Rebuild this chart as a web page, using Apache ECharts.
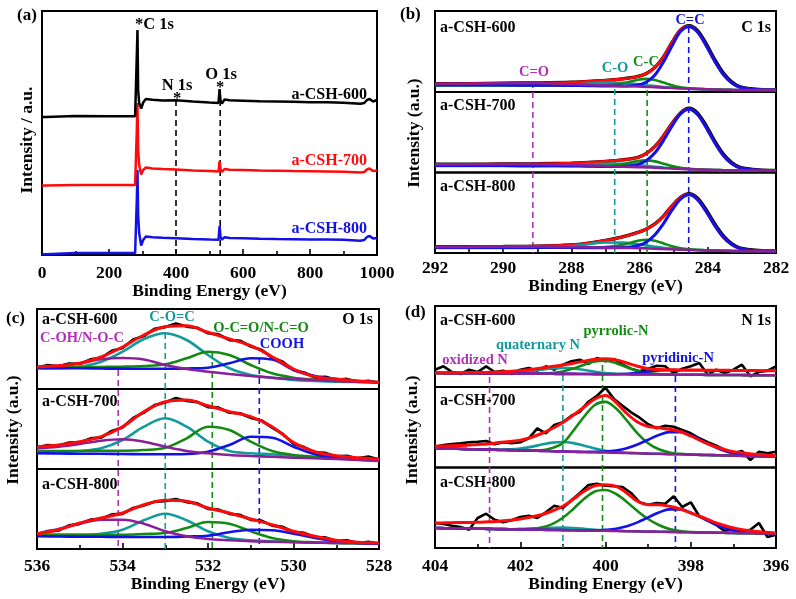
<!DOCTYPE html>
<html><head><meta charset="utf-8">
<script src="https://cdn.jsdelivr.net/npm/echarts/dist/echarts.min.js"></script>
<style>html,body{margin:0;padding:0;background:#fff;}#c{width:796px;height:599px;}</style>
</head><body><div id="c"></div>
<script>
// ================= DATA =================
// ---- (a) survey spectra (intensity offset, arbitrary units) ----
const surveyX   = [0, 12, 16, 100, 200, 278, 281, 283, 285, 287, 290, 296, 302, 310, 330, 360, 400, 450, 500, 527, 530, 533, 537, 545, 560, 600, 650, 700, 750, 800, 850, 900, 950, 962, 970, 978, 988, 1000];
const survey600 = [138.0, 138.0, 139.0, 139.0, 138.8, 138.8, 139.5, 200, 225, 165, 152, 146.5, 152.5, 156, 155.3, 154.5, 154.7, 153.5, 152.5, 152, 166, 154, 151.5, 155.5, 154.7, 154.3, 153.8, 153.5, 153.2, 152.8, 152.8, 152.3, 151.2, 152, 155, 156, 153.5, 155];
const survey700 = [69.5, 69.5, 70, 70, 70, 70, 70.5, 125, 152, 105, 90, 80.5, 85, 87.5, 86.5, 86, 85.5, 84.5, 84, 83.5, 94, 86, 83, 86, 85.3, 85, 84.5, 84.3, 84, 83.8, 83.6, 83.3, 82.5, 83, 85.5, 86.5, 84, 84.5];
const survey800 = [0.8, 0.8, 2, 2, 2, 2, 2.5, 55, 85, 40, 22, 9.5, 15, 18.5, 17.8, 17.3, 16.8, 16, 15.5, 15.3, 29, 18, 15.3, 17.8, 17, 16.7, 16.3, 16, 15.8, 15.6, 15.4, 15.2, 14.3, 15, 18, 19, 16.5, 17];
const surveyMarkX   = [400, 532];
const surveyMarkTop = [155, 165];

// ---- (b) C 1s ----
const c1sX = [292, 291, 290, 289, 288, 287.5, 287, 286.5, 286.05, 285.8, 285.55, 285.3, 285.05, 284.8, 284.55, 284.3, 284.05, 283.8, 283.55, 283.3, 283.05, 282.5, 282];
const c1s600Raw = [8.2, 8.4, 8.8, 9.1, 9.7, 10.6, 11.6, 13.1, 15.6, 18.6, 24.6, 35.1, 49.6, 62.1, 66.4, 61.4, 48.3, 32.6, 19.2, 10.2, 5.2, 2.5, 2.0];
const c1s600Fit = [8.1, 8.3, 8.7, 9.0, 9.6, 10.5, 11.5, 13.0, 15.5, 18.5, 24.5, 35.0, 49.5, 62.0, 65.8, 60.0, 46.5, 30.9, 17.7, 9.2, 4.7, 2.2, 2.0];
const c1s600CdC = [7.0, 7.0, 6.9, 6.8, 6.6, 6.3, 6.0, 6.0, 7.0, 10.0, 17.0, 30.0, 46.0, 60.5, 65.3, 59.9, 46.5, 30.9, 17.7, 9.2, 4.7, 2.2, 2.0];
const c1s600CC  = [6.8, 6.8, 6.7, 6.6, 6.5, 6.4, 6.6, 8.6, 12.3, 13.1, 12.0, 9.4, 6.8, 4.8, 3.7, 3.1, 2.7, 2.5, 2.3, 2.1, 2.0, 2.0, 2.0];
const c1s600CO  = [6.5, 6.5, 6.5, 6.6, 7.3, 8.4, 9.4, 9.1, 7.8, 6.8, 5.9, 5.0, 4.3, 3.7, 3.3, 3.0, 2.7, 2.5, 2.3, 2.1, 2.0, 2.0, 2.0];
const c1s600CdO = [8.1, 8.3, 8.7, 8.7, 7.8, 7.1, 6.5, 5.9, 5.5, 5.1, 4.8, 4.4, 4.0, 3.6, 3.3, 3.0, 2.7, 2.5, 2.3, 2.1, 2.0, 2.0, 2.0];
const c1s700Raw = [8.2, 8.3, 8.5, 8.7, 9.4, 10.1, 11.1, 12.6, 15.1, 19.1, 26.1, 36.6, 49.1, 59.6, 64.2, 59.4, 46.9, 31.7, 18.7, 9.9, 5.1, 2.5, 2.0];
const c1s700Fit = [8.1, 8.2, 8.4, 8.6, 9.3, 10.0, 11.0, 12.5, 15.0, 19.0, 26.0, 36.5, 49.0, 59.5, 63.6, 58.0, 45.1, 30.0, 17.2, 8.9, 4.6, 2.2, 2.0];
const c1s700CdC = [7.0, 7.0, 6.9, 6.8, 6.6, 6.3, 6.0, 6.0, 8.0, 11.9, 19.7, 31.9, 46.4, 58.6, 63.3, 58.0, 45.1, 30.0, 17.2, 8.9, 4.6, 2.2, 2.0];
const c1s700CC  = [6.8, 6.8, 6.7, 6.6, 6.5, 6.4, 6.5, 8.3, 11.4, 12.1, 11.1, 8.8, 6.4, 4.6, 3.6, 3.1, 2.7, 2.5, 2.3, 2.1, 2.0, 2.0, 2.0];
const c1s700CO  = [6.5, 6.5, 6.5, 6.6, 7.2, 8.0, 8.8, 8.6, 7.5, 6.6, 5.8, 5.0, 4.3, 3.8, 3.4, 3.0, 2.7, 2.5, 2.3, 2.1, 2.0, 2.0, 2.0];
const c1s700CdO = [8.1, 8.2, 8.4, 8.4, 7.6, 7.0, 6.4, 5.9, 5.4, 5.1, 4.8, 4.4, 4.0, 3.6, 3.3, 3.0, 2.7, 2.5, 2.3, 2.1, 2.0, 2.0, 2.0];
const c1s800Raw = [6.2, 6.3, 6.5, 6.9, 8.1, 9.9, 12.6, 16.1, 20.6, 24.1, 29.1, 36.9, 47.1, 55.6, 59.3, 54.8, 43.3, 29.2, 17.4, 9.3, 4.9, 2.5, 2.0];
const c1s800Fit = [6.1, 6.2, 6.4, 6.8, 8.0, 9.8, 12.5, 16.0, 20.5, 24.0, 29.0, 36.8, 47.0, 55.5, 58.8, 53.5, 41.6, 27.7, 16.0, 8.4, 4.4, 2.2, 2.0];
const c1s800CdC = [5.5, 5.5, 5.5, 5.5, 5.4, 5.3, 5.2, 5.4, 7.4, 11.1, 18.3, 29.4, 42.8, 53.9, 58.3, 53.4, 41.6, 27.7, 16.0, 8.4, 4.4, 2.2, 2.0];
const c1s800CC  = [5.3, 5.3, 5.3, 5.3, 5.4, 5.5, 5.9, 8.3, 12.3, 13.3, 12.2, 9.6, 6.7, 4.7, 3.6, 3.1, 2.7, 2.5, 2.3, 2.1, 2.0, 2.0, 2.0];
const c1s800CO  = [5.0, 5.0, 5.0, 5.3, 6.8, 8.8, 10.5, 10.4, 8.7, 7.5, 6.3, 5.2, 4.4, 3.8, 3.3, 3.0, 2.7, 2.5, 2.3, 2.1, 2.0, 2.0, 2.0];
const c1s800CdO = [6.0, 6.1, 6.3, 6.4, 6.0, 5.7, 5.4, 5.1, 4.8, 4.6, 4.3, 4.0, 3.7, 3.4, 3.1, 2.8, 2.6, 2.4, 2.2, 2.0, 1.9, 1.9, 1.9];
const c1sMarkX   = [289.13, 286.73, 285.78, 284.56];
const c1sMarkTop = [171, 174, 173, 226];

// ---- (c) O 1s ----
const o1sX    = [536, 535.5, 535, 534.5, 534, 533.5, 533, 532.5, 532, 531.5, 531, 530.5, 530, 529.5, 529, 528.5, 528];
const o1sRawX = [536, 535.75, 535.5, 535.25, 535, 534.75, 534.5, 534.25, 534, 533.75, 533.5, 533.25, 533, 532.75, 532.5, 532.25, 532, 531.75, 531.5, 531.25, 531, 530.75, 530.5, 530.25, 530, 529.75, 529.5, 529.25, 529, 528.75, 528.5, 528.25, 528];
const o1s600Raw  = [21.5, 23.8, 22.6, 25.3, 25.0, 29.5, 31.2, 38.2, 41.0, 49.5, 53.0, 60.2, 62.0, 65.5, 62.5, 61.2, 55.8, 54.5, 49.0, 48.2, 42.5, 39.2, 31.5, 27.2, 19.0, 16.5, 11.5, 12.2, 9.2, 10.0, 7.2, 8.0, 6.2];
const o1s600Fit  = [22.3, 23.3, 25.7, 32.0, 42.0, 54.0, 62.3, 63.3, 56.7, 50.0, 43.3, 32.3, 20.0, 12.3, 10.0, 8.0, 6.7];
const o1s600COC  = [20.7, 20.7, 22.3, 27.3, 37.3, 50.0, 55.7, 49.0, 34.0, 20.7, 14.0, 11.3, 9.0, 8.0, 7.3, 7.0, 6.7];
const o1s600OCO  = [21.7, 21.7, 21.7, 22.0, 22.3, 23.0, 24.7, 30.7, 37.3, 34.0, 24.0, 15.7, 11.3, 9.3, 8.0, 7.3, 6.7];
const o1s600COOH = [20.7, 20.7, 20.7, 20.5, 20.3, 20.3, 20.3, 20.5, 21.3, 25.7, 30.7, 29.5, 19.0, 13.0, 10.0, 8.0, 6.7];
const o1s600COH  = [21.7, 23.3, 25.7, 29.7, 31.0, 29.5, 24.0, 20.0, 17.3, 15.0, 13.0, 11.3, 10.0, 9.0, 8.0, 7.3, 6.7];
const o1s700Raw  = [21.5, 23.8, 23.2, 26.3, 26.5, 30.5, 31.5, 38.0, 41.5, 51.0, 56.5, 63.8, 66.5, 71.0, 68.2, 67.0, 62.0, 61.3, 56.3, 55.6, 51.2, 48.5, 41.5, 35.0, 25.2, 21.8, 16.5, 16.0, 12.5, 13.2, 10.5, 12.3, 9.5];
const o1s700Fit  = [22.3, 24.0, 27.3, 32.3, 42.3, 57.3, 67.3, 69.0, 63.3, 57.3, 52.3, 42.3, 26.5, 17.3, 13.3, 11.3, 10.0];
const o1s700COC  = [17.3, 17.3, 18.0, 20.7, 29.0, 42.3, 50.7, 42.3, 27.3, 18.0, 15.7, 14.7, 13.3, 12.0, 10.7, 9.8, 9.0];
const o1s700OCO  = [18.0, 18.0, 18.0, 18.2, 18.3, 19.0, 21.3, 30.7, 42.3, 39.0, 27.3, 18.0, 14.0, 12.3, 11.3, 10.2, 9.0];
const o1s700COOH = [15.7, 15.5, 15.3, 15.2, 15.0, 14.8, 14.7, 15.0, 17.3, 24.0, 32.3, 31.3, 22.3, 14.7, 11.3, 10.0, 9.0];
const o1s700COH  = [20.7, 22.3, 25.0, 28.3, 29.8, 27.3, 22.3, 18.0, 15.7, 14.0, 13.0, 12.2, 11.3, 10.7, 10.0, 9.0, 8.0];
const o1s800Raw  = [14.5, 17.8, 18.5, 23.5, 25.2, 29.3, 30.2, 34.5, 35.2, 41.0, 43.5, 47.3, 48.0, 49.8, 47.0, 45.5, 40.2, 39.3, 35.2, 34.0, 29.2, 28.3, 23.5, 22.0, 17.0, 16.0, 11.9, 11.5, 8.0, 8.6, 5.9, 7.0, 5.2];
const o1s800Fit  = [15.3, 19.3, 26.0, 31.0, 36.0, 44.3, 48.7, 47.7, 41.0, 36.0, 30.0, 24.3, 17.7, 12.7, 8.7, 6.7, 6.0];
const o1s800COC  = [14.3, 14.3, 14.3, 15.3, 19.3, 28.7, 35.3, 28.7, 17.7, 11.0, 8.7, 7.7, 7.0, 6.5, 6.0, 5.7, 5.3];
const o1s800OCO  = [14.3, 14.3, 14.3, 14.3, 14.3, 15.0, 16.0, 21.0, 27.0, 25.3, 17.7, 11.0, 7.7, 6.7, 6.0, 5.7, 5.3];
const o1s800COOH = [12.7, 12.5, 12.3, 12.2, 12.0, 12.0, 12.0, 12.5, 13.3, 16.7, 19.3, 18.7, 15.3, 11.0, 7.7, 6.0, 5.3];
const o1s800COH  = [15.3, 20.0, 25.3, 29.3, 29.3, 25.3, 17.7, 12.7, 10.0, 8.7, 7.7, 7.2, 6.7, 6.3, 6.0, 6.0, 6.0];
const o1sMarkX   = [534.1, 533.0, 531.9, 530.8];
const o1sMarkTop = [179, 216, 197, 191];

// ---- (d) N 1s ----
const n1sX    = [404, 403.75, 403.5, 403.25, 403, 402.75, 402.5, 402.25, 402, 401.75, 401.5, 401.25, 401, 400.75, 400.5, 400.25, 400, 399.75, 399.5, 399.25, 399, 398.75, 398.5, 398.25, 398, 397.75, 397.5, 397.25, 397, 396.75, 396.5, 396.25, 396];
const n1sRawX = [404, 403.8, 403.6, 403.4, 403.2, 403, 402.8, 402.6, 402.4, 402.2, 402, 401.8, 401.6, 401.4, 401.2, 401, 400.8, 400.6, 400.4, 400.2, 400, 399.8, 399.6, 399.4, 399.2, 399, 398.8, 398.6, 398.4, 398.2, 398, 397.8, 397.6, 397.4, 397.2, 397, 396.8, 396.6, 396.4, 396.2, 396];
const n1s600Raw = [17.3, 20.7, 15, 13, 17.3, 15, 20.7, 15, 16.3, 13, 17.3, 19, 16.3, 20.7, 17.3, 22.3, 25.7, 27.3, 23, 29, 25.7, 28, 22.3, 18.3, 15.7, 18.3, 21.3, 20.7, 14, 18.3, 20.7, 24, 12.3, 17.3, 14, 17.3, 22.3, 10.7, 15, 16.3, 20.7];
const n1s600Fit = [14.2, 14.2, 14.3, 14.4, 14.5, 14.7, 15.0, 15.6, 16.5, 17.6, 19.0, 20.5, 22.0, 23.8, 25.8, 27.8, 28.3, 27.0, 24.0, 20.8, 18.3, 17.4, 17.2, 17.1, 17.0, 16.9, 16.8, 16.7, 16.6, 16.5, 16.4, 16.3, 16.3];
const n1s600Pyrrolic   = [14.0, 13.9, 13.9, 13.8, 13.7, 13.6, 13.6, 13.5, 13.4, 13.4, 13.5, 14.0, 15.5, 18.5, 22.3, 25.5, 26.2, 23.8, 19.7, 16.1, 14.0, 12.9, 12.5, 12.3, 12.3, 12.2, 12.1, 12.0, 12.0, 11.9, 11.8, 11.8, 11.7];
const n1s600Quaternary = [14.0, 13.9, 13.9, 13.8, 13.7, 13.6, 13.7, 14.0, 14.6, 15.8, 17.3, 18.6, 19.1, 18.5, 17.0, 15.3, 14.0, 13.3, 12.8, 12.6, 12.6, 12.5, 12.4, 12.3, 12.3, 12.2, 12.1, 12.0, 12.0, 11.9, 11.8, 11.8, 11.7];
const n1s600Pyridinic  = [14.0, 13.9, 13.9, 13.8, 13.7, 13.6, 13.6, 13.5, 13.4, 13.4, 13.3, 13.2, 13.1, 13.1, 13.0, 12.9, 12.8, 12.8, 13.2, 14.1, 15.6, 16.5, 16.9, 16.8, 16.8, 16.7, 16.6, 16.5, 16.5, 16.4, 16.3, 16.3, 16.2];
const n1s600Oxidized   = [14.0, 13.9, 13.9, 13.8, 13.7, 13.6, 13.6, 13.5, 13.4, 13.4, 13.3, 13.2, 13.1, 13.1, 13.0, 12.9, 12.8, 12.8, 12.7, 12.6, 12.6, 12.5, 12.4, 12.3, 12.3, 12.2, 12.1, 12.0, 12.0, 11.9, 11.8, 11.8, 11.7];
const n1s700Raw = [20.8, 22.5, 23.5, 24.2, 25.2, 25.8, 26.5, 23.2, 25.2, 24.2, 25.2, 29.2, 39.2, 34.2, 42.5, 45.2, 51.8, 55.8, 65.8, 71.8, 79.8, 68.5, 61.8, 55.2, 49.8, 43.2, 39.2, 41.8, 40.8, 37.5, 34.2, 29.2, 25.2, 21.8, 17.5, 14.2, 16.5, 7.5, 15.8, 14.2, 15.8];
const n1s700Fit = [21.3, 21.6, 22.0, 22.3, 23.0, 23.5, 25.0, 26.0, 27.3, 30.0, 34.0, 39.0, 45.0, 52.5, 60.5, 68.5, 72.0, 65.0, 54.0, 45.5, 41.0, 39.8, 38.3, 36.0, 31.5, 26.5, 22.0, 18.5, 15.8, 14.5, 13.2, 12.5, 11.8];
const n1s700Pyrrolic   = [19.2, 18.9, 18.7, 18.4, 18.2, 17.9, 17.6, 17.4, 17.1, 16.9, 17.2, 19.5, 24.5, 37.0, 51.0, 62.5, 65.6, 58.9, 47.0, 34.2, 24.3, 18.2, 15.1, 13.7, 13.0, 12.6, 12.4, 12.1, 11.8, 11.6, 11.3, 11.1, 10.8];
const n1s700Quaternary = [19.2, 18.9, 18.7, 18.4, 18.2, 17.9, 17.8, 18.1, 18.9, 20.6, 22.9, 24.9, 25.5, 24.4, 21.8, 19.1, 16.8, 15.4, 14.7, 14.3, 13.9, 13.7, 13.4, 13.2, 12.9, 12.6, 12.4, 12.1, 11.8, 11.6, 11.3, 11.1, 10.8];
const n1s700Pyridinic  = [19.2, 18.9, 18.7, 18.4, 18.2, 17.9, 17.6, 17.4, 17.1, 16.8, 16.6, 16.3, 16.0, 15.8, 15.5, 15.6, 15.9, 17.0, 19.3, 23.0, 27.8, 32.5, 35.4, 35.4, 32.2, 27.1, 21.8, 17.3, 14.3, 12.6, 11.7, 11.2, 10.8];
const n1s700Oxidized   = [19.2, 18.9, 18.7, 18.4, 18.2, 17.9, 17.6, 17.4, 17.1, 16.8, 16.6, 16.3, 16.0, 15.8, 15.5, 15.3, 15.0, 14.7, 14.5, 14.2, 13.9, 13.7, 13.4, 13.2, 12.9, 12.6, 12.4, 12.1, 11.8, 11.6, 11.3, 11.1, 10.8];
const n1s800Raw = [25, 24, 22.3, 21, 18.3, 30, 34.3, 28.3, 25.7, 27.7, 31, 32.3, 30, 35.7, 42.3, 40, 47.7, 55, 63, 64.3, 62.3, 61.7, 61, 55, 45.7, 43.3, 45, 44.3, 51.7, 41, 45.7, 31.7, 28.3, 23, 16.7, 20, 16.7, 18.3, 25, 11, 13.3];
const n1s800Fit = [25.0, 25.2, 25.4, 25.5, 25.7, 26.2, 26.7, 27.7, 29.0, 31.0, 33.3, 37.0, 41.7, 49.0, 56.7, 62.3, 63.3, 61.7, 55.0, 46.7, 43.3, 43.3, 41.7, 39.0, 35.0, 31.0, 26.7, 23.0, 20.0, 18.0, 16.7, 15.7, 15.0];
const n1s800Pyrrolic   = [20.0, 19.8, 19.6, 19.5, 19.3, 19.1, 18.9, 18.8, 18.6, 19.2, 20.6, 23.9, 30.2, 39.3, 49.2, 56.5, 58.0, 54.0, 46.0, 37.0, 29.0, 23.0, 19.0, 17.0, 16.0, 15.5, 15.4, 15.2, 15.0, 14.8, 14.7, 14.5, 14.3];
const n1s800Quaternary = [20.0, 19.8, 19.6, 19.5, 19.3, 19.1, 18.9, 18.8, 19.1, 19.4, 19.9, 20.3, 20.4, 20.0, 19.2, 18.3, 17.7, 17.2, 16.8, 16.6, 16.4, 16.3, 16.1, 15.9, 15.7, 15.5, 15.4, 15.2, 15.0, 14.8, 14.7, 14.5, 14.3];
const n1s800Pyridinic  = [20.0, 19.8, 19.6, 19.5, 19.3, 19.1, 18.9, 18.8, 18.6, 18.4, 18.2, 18.0, 17.9, 17.7, 17.5, 17.6, 18.2, 19.3, 21.7, 25.6, 30.6, 35.5, 38.6, 38.6, 35.4, 30.3, 25.0, 20.6, 17.6, 15.9, 15.1, 14.6, 14.3];
const n1s800Oxidized   = [20.0, 19.8, 19.6, 19.5, 19.3, 19.1, 18.9, 18.8, 18.6, 18.4, 18.2, 18.0, 17.9, 17.7, 17.5, 17.3, 17.2, 17.0, 16.8, 16.6, 16.4, 16.3, 16.1, 15.9, 15.7, 15.5, 15.4, 15.2, 15.0, 14.8, 14.7, 14.5, 14.3];
const n1sMarkX   = [402.72, 401.0, 400.07, 398.36];
const n1sMarkTop = [171, 173, 183, 172];

// ================= BUILD =================
const FONT = '"Liberation Serif","Times New Roman",serif';
const COL = {black:'#000000', red:'#ff0a0a', blue:'#1212e8', green:'#138a13', teal:'#149a9a', purple:'#8a1f98', mag:'#b030b8'};
const grids = [], xAxes = [], yAxes = [], series = [], graphics = [];

function addGrid(rect, xOpt, yMax, border) {
  grids.push(Object.assign({show: border !== false, borderColor:'#000', borderWidth:2, backgroundColor:'rgba(0,0,0,0)', containLabel:false}, rect));
  const gi = grids.length - 1;
  xAxes.push(Object.assign({gridIndex: gi}, xOpt));
  yAxes.push({gridIndex: gi, type:'value', min:0, max:yMax, show:false});
  return gi;
}
function xBottom(min, max, interval, inverse, margin, nameGap) {
  return {type:'value', min, max, interval, inverse,
    axisLine:{show:false},
    axisTick:{show:true, inside:true, length:6, lineStyle:{color:'#000', width:1.6}},
    minorTick:{show:true, splitNumber:2, length:4, lineStyle:{color:'#000', width:1.6}},
    splitLine:{show:false}, minorSplitLine:{show:false},
    axisLabel:{show:true, color:'#000', fontFamily:FONT, fontWeight:'bold', fontSize:17.5, margin, formatter: v => String(v)},
    name:'Binding Energy (eV)', nameLocation:'middle', nameGap,
    nameTextStyle:{color:'#000', fontFamily:FONT, fontWeight:'bold', fontSize:17.5}};
}
function xHidden(min, max, inverse) {
  return {type:'value', min, max, inverse, show:false, splitLine:{show:false}};
}
function addLine(gi, xs, ys, color, width, smooth) {
  series.push({type:'line', xAxisIndex:gi, yAxisIndex:gi, data: xs.map((x, i) => [x, ys[i]]),
    symbol:'none', showSymbol:false, smooth: smooth || false, silent:true, animation:false,
    lineStyle:{color, width}});
}
function addDash(gi, x, top, color) {
  series.push({type:'line', xAxisIndex:gi, yAxisIndex:gi, data:[[x, top], [x, 0]],
    symbol:'none', showSymbol:false, silent:true, animation:false,
    lineStyle:{color, width:1.6, type:[6, 4]}});
}
function txt(x, y, text, color, size, align, rot) {
  const el = {type:'text', x, y, silent:true, z:100,
    style:{text, fill:color, font:'bold ' + size + 'px ' + FONT,
      align: align || 'left', verticalAlign:'middle', textAlign: align || 'left', textVerticalAlign:'middle'}};
  if (rot) el.rotation = rot;
  graphics.push(el);
}

// ---- (a) ----
const ga = addGrid({left:42, top:11, width:335, height:244}, xBottom(0, 1000, 200, false, 9, 25), 244);
addDash(ga, surveyMarkX[0], surveyMarkTop[0], '#000');
addDash(ga, surveyMarkX[1], surveyMarkTop[1], '#000');
addLine(ga, surveyX, survey800, COL.blue, 2.5);
addLine(ga, surveyX, survey700, COL.red, 2.5);
addLine(ga, surveyX, survey600, COL.black, 2.5);

// ---- (b) ----
const bTops = [11, 92, 172.5], bH = [81, 80.5, 80.5];
const bOv = addGrid({left:435, top:11, width:341, height:242}, xHidden(282, 292, true), 242, false);
const c1sCols = [COL.mag, COL.teal, COL.green, COL.blue];
c1sMarkX.forEach((x, i) => addDash(bOv, x, c1sMarkTop[i], c1sCols[i]));
const c1sSets = [
  [c1s600Raw, c1s600Fit, c1s600CO, c1s600CC, c1s600CdC, c1s600CdO],
  [c1s700Raw, c1s700Fit, c1s700CO, c1s700CC, c1s700CdC, c1s700CdO],
  [c1s800Raw, c1s800Fit, c1s800CO, c1s800CC, c1s800CdC, c1s800CdO]];
c1sSets.forEach((s, k) => {
  const gi = addGrid({left:435, top:bTops[k], width:341, height:bH[k]},
    k === 2 ? xBottom(282, 292, 2, true, 6, 22) : xHidden(282, 292, true), bH[k]);
  addLine(gi, c1sX, s[0], COL.black, 3.4, 0.3);
  addLine(gi, c1sX, s[1], COL.red, 2.8, 0.3);
  addLine(gi, c1sX, s[2], COL.teal, 2.6, 0.3);
  addLine(gi, c1sX, s[3], COL.green, 2.6, 0.3);
  addLine(gi, c1sX, s[4], COL.blue, 3.0, 0.3);
  addLine(gi, c1sX, s[5], COL.purple, 2.6, 0.3);
});

// ---- (c) ----
const cTops = [309, 389, 469], cH = [80, 80, 80];
const cOv = addGrid({left:37, top:309, width:342, height:240}, xHidden(528, 536, true), 240, false);
const o1sCols = [COL.mag, COL.teal, COL.green, COL.blue];
o1sMarkX.forEach((x, i) => addDash(cOv, x, o1sMarkTop[i], o1sCols[i]));
const o1sSets = [
  [o1s600Raw, o1s600Fit, o1s600COC, o1s600OCO, o1s600COOH, o1s600COH],
  [o1s700Raw, o1s700Fit, o1s700COC, o1s700OCO, o1s700COOH, o1s700COH],
  [o1s800Raw, o1s800Fit, o1s800COC, o1s800OCO, o1s800COOH, o1s800COH]];
o1sSets.forEach((s, k) => {
  const gi = addGrid({left:37, top:cTops[k], width:342, height:cH[k]},
    k === 2 ? xBottom(528, 536, 2, true, 8, 25) : xHidden(528, 536, true), cH[k]);
  addLine(gi, o1sRawX, s[0], COL.black, 2.8, false);
  addLine(gi, o1sX, s[2], COL.teal, 2.6, 0.35);
  addLine(gi, o1sX, s[3], COL.green, 2.6, 0.35);
  addLine(gi, o1sX, s[4], COL.blue, 2.6, 0.35);
  addLine(gi, o1sX, s[5], COL.purple, 2.6, 0.35);
  addLine(gi, o1sX, s[1], COL.red, 3.0, 0.35);
});

// ---- (d) ----
const dTops = [306, 387, 467.5], dH = [81, 80.5, 80.5];
const dOv = addGrid({left:435, top:306, width:341, height:242}, xHidden(396, 404, true), 242, false);
const n1sCols = [COL.mag, COL.teal, COL.green, COL.blue];
n1sMarkX.forEach((x, i) => addDash(dOv, x, n1sMarkTop[i], n1sCols[i]));
const n1sSets = [
  [n1s600Raw, n1s600Fit, n1s600Quaternary, n1s600Pyrrolic, n1s600Pyridinic, n1s600Oxidized],
  [n1s700Raw, n1s700Fit, n1s700Quaternary, n1s700Pyrrolic, n1s700Pyridinic, n1s700Oxidized],
  [n1s800Raw, n1s800Fit, n1s800Quaternary, n1s800Pyrrolic, n1s800Pyridinic, n1s800Oxidized]];
n1sSets.forEach((s, k) => {
  const gi = addGrid({left:435, top:dTops[k], width:341, height:dH[k]},
    k === 2 ? xBottom(396, 404, 2, true, 9, 24) : xHidden(396, 404, true), dH[k]);
  addLine(gi, n1sRawX, s[0], COL.black, 2.6, false);
  addLine(gi, n1sX, s[2], COL.teal, 2.6, 0.35);
  addLine(gi, n1sX, s[3], COL.green, 2.6, 0.35);
  addLine(gi, n1sX, s[4], COL.blue, 2.6, 0.35);
  addLine(gi, n1sX, s[5], COL.purple, 2.6, 0.35);
  addLine(gi, n1sX, s[1], COL.red, 3.0, 0.35);
});

// ---- texts ----
const R = Math.PI / 2;
// (a)
txt(17, 16, '(a)', '#000', 17);
txt(135, 25, '*C 1s', '#000', 16.5);
txt(177, 86, 'N 1s', '#000', 16.5, 'center');
txt(177, 99, '*', '#000', 16.5, 'center');
txt(221, 75, 'O 1s', '#000', 16.5, 'center');
txt(220, 88, '*', '#000', 16.5, 'center');
txt(367, 95, 'a-CSH-600', '#000', 16, 'right');
txt(367, 161, 'a-CSH-700', COL.red, 16, 'right');
txt(367, 229, 'a-CSH-800', COL.blue, 16, 'right');
txt(27, 140, 'Intensity / a.u.', '#000', 17.5, 'center', R);
// (b)
txt(400, 15, '(b)', '#000', 17);
txt(440, 28, 'a-CSH-600', '#000', 16);
txt(440, 106, 'a-CSH-700', '#000', 16);
txt(440, 187, 'a-CSH-800', '#000', 16);
txt(771, 28, 'C 1s', '#000', 16, 'right');
txt(690, 20, 'C=C', COL.blue, 14.5, 'center');
txt(646, 62, 'C-C', COL.green, 14.5, 'center');
txt(615, 68, 'C-O', COL.teal, 14.5, 'center');
txt(534, 72, 'C=O', COL.mag, 14.5, 'center');
txt(414, 133, 'Intensity (a.u.)', '#000', 17.5, 'center', R);
// (c)
txt(6, 319, '(c)', '#000', 17);
txt(42, 320, 'a-CSH-600', '#000', 16);
txt(42, 402, 'a-CSH-700', '#000', 16);
txt(42, 485, 'a-CSH-800', '#000', 16);
txt(373, 320, 'O 1s', '#000', 16, 'right');
txt(172, 317, 'C-O=C', COL.teal, 14.5, 'center');
txt(261, 328, 'O-C=O/N-C=O', COL.green, 14.5, 'center');
txt(82, 338, 'C-OH/N-O-C', COL.mag, 14.5, 'center');
txt(282, 344, 'COOH', COL.blue, 14.5, 'center');
txt(13, 430, 'Intensity (a.u.)', '#000', 17.5, 'center', R);
// (d)
txt(405, 313, '(d)', '#000', 17);
txt(440, 321, 'a-CSH-600', '#000', 16);
txt(440, 401, 'a-CSH-700', '#000', 16);
txt(440, 483, 'a-CSH-800', '#000', 16);
txt(771, 321, 'N 1s', '#000', 16, 'right');
txt(616, 331, 'pyrrolic-N', COL.green, 14.5, 'center');
txt(538, 345, 'quaternary N', COL.teal, 14.5, 'center');
txt(475, 360, 'oxidized N', COL.mag, 14.5, 'center');
txt(678, 358, 'pyridinic-N', COL.blue, 14.5, 'center');
txt(412, 430, 'Intensity (a.u.)', '#000', 17.5, 'center', R);

const chart = echarts.init(document.getElementById('c'), null, {renderer:'canvas', width:796, height:599});
chart.setOption({animation:false, backgroundColor:'#ffffff', grid:grids, xAxis:xAxes, yAxis:yAxes, series, graphic:graphics});
</script>
</body></html>
